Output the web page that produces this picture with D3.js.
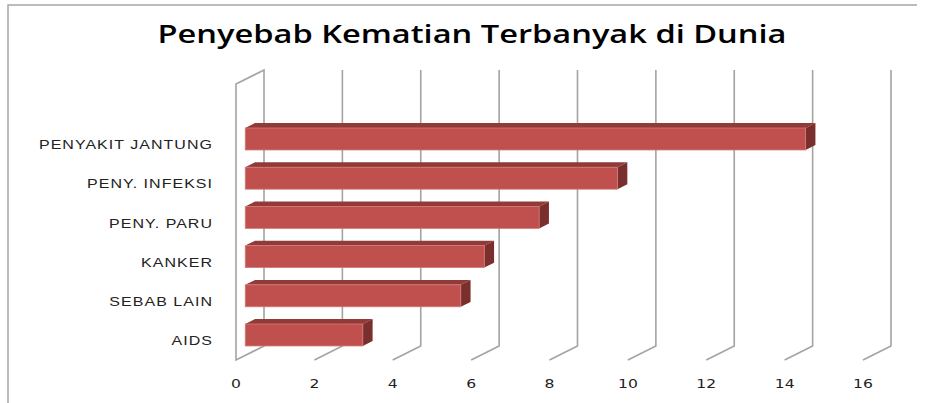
<!DOCTYPE html>
<html>
<head>
<meta charset="utf-8">
<script src="https://cdn.jsdelivr.net/npm/d3@7"></script>
<style>
  body { margin: 0; background: #fff; }
  svg { display: block; }
</style>
</head>
<body>
<div id="chart"></div>
<script>
var categories = ["PENYAKIT JANTUNG", "PENY. INFEKSI", "PENY. PARU", "KANKER", "SEBAB LAIN", "AIDS"];
var values = [14.3, 9.5, 7.5, 6.1, 5.5, 3.0];
var tickValues = [0, 2, 4, 6, 8, 10, 12, 14, 16];
var title = "Penyebab Kematian Terbanyak di Dunia";

var width = 926, height = 403;
var svg = d3.select("#chart").append("svg")
    .attr("width", width)
    .attr("height", height);

// depth of the 3d box, and where the bars sit inside it
var DX = 28, DY = -14;
var bf = 0.33, bb = 0.68;

var x = d3.scaleLinear()
    .domain([0, 16])
    .range([236, 863]);

var wallTop = 84, floorY = 360;

// bars front face
var y = d3.scaleBand()
    .domain(categories)
    .range([119.4, 354.6])
    .paddingInner(0.44)
    .paddingOuter(0.22);

// outer border
svg.append("path")
    .attr("d", "M8,403 L8,5 L917,5")
    .attr("fill", "none")
    .attr("stroke", "#a6a6a6")
    .attr("stroke-width", 1.5);

// title
svg.append("text")
    .attr("x", 472)
    .attr("y", 43)
    .attr("text-anchor", "middle")
    .attr("font-family", "'Open Sans', sans-serif")
    .attr("font-weight", 600)
    .attr("font-size", 26)
    .attr("textLength", 629)
    .attr("lengthAdjust", "spacingAndGlyphs")
    .attr("fill", "#000")
    .text(title);

var grid = svg.append("g")
    .attr("fill", "none")
    .attr("stroke", "#a3a3a3")
    .attr("stroke-width", 1.6);

// left wall
grid.append("path")
    .attr("d", "M" + x(0) + "," + floorY + " L" + x(0) + "," + wallTop +
        " L" + (x(0) + DX) + "," + (wallTop + DY) +
        " L" + (x(0) + DX) + "," + (floorY + DY) + " Z");

// gridlines: back vertical + floor diagonal
tickValues.filter(function (d) { return d > 0; }).forEach(function (v) {
    grid.append("path")
        .attr("d", "M" + (x(v) + DX) + "," + (wallTop + DY) +
            " L" + (x(v) + DX) + "," + (floorY + DY) +
            " L" + x(v) + "," + floorY);
});

// tick labels
svg.append("g").selectAll("text")
    .data(tickValues)
    .join("text")
    .attr("transform", function (d) { return "translate(" + x(d) + ",388) scale(1.3,1)"; })
    .attr("text-anchor", "middle")
    .attr("font-family", "'DejaVu Sans', sans-serif")
    .attr("font-size", 12)
    .attr("fill", "#222")
    .text(function (d) { return d; });

// category labels
svg.append("g").selectAll("text")
    .data(categories)
    .join("text")
    .attr("transform", function (d) { return "translate(213," + (y(d) + y.bandwidth() / 2 + 7) + ") scale(1.3,1)"; })
    .attr("text-anchor", "end")
    .attr("dominant-baseline", "middle")
    .attr("font-family", "'Liberation Sans', Arial, sans-serif")
    .attr("font-size", 12.3)
    .attr("letter-spacing", 0.8)
    .attr("fill", "#222")
    .text(function (d) { return d; });

// bars
var ox = DX * bf, bx = DX * (bb - bf), by = DY * (bb - bf);
var bars = svg.append("g").selectAll("g")
    .data(categories.map(function (c, i) { return { cat: c, v: values[i] }; }))
    .join("g");

function pts(a) { return a.map(function (p) { return p.join(","); }).join(" "); }

bars.append("polygon")
    .attr("fill", "#913a38")
    .attr("points", function (d) {
        var x0 = x(0) + ox, x1 = x(d.v) + ox, t = y(d.cat);
        return pts([[x0, t], [x0 + bx, t + by], [x1 + bx, t + by], [x1, t]]);
    });

bars.append("polygon")
    .attr("fill", "#7b2f2d")
    .attr("points", function (d) {
        var x1 = x(d.v) + ox, t = y(d.cat), b = t + y.bandwidth();
        return pts([[x1, t], [x1 + bx, t + by], [x1 + bx, b + by], [x1, b]]);
    });

bars.append("rect")
    .attr("x", x(0) + ox)
    .attr("y", function (d) { return y(d.cat); })
    .attr("width", function (d) { return x(d.v) - x(0); })
    .attr("height", y.bandwidth())
    .attr("fill", "#c0504d")
    .attr("stroke", "#d07a77")
    .attr("stroke-width", 0.8);
</script>
</body>
</html>
